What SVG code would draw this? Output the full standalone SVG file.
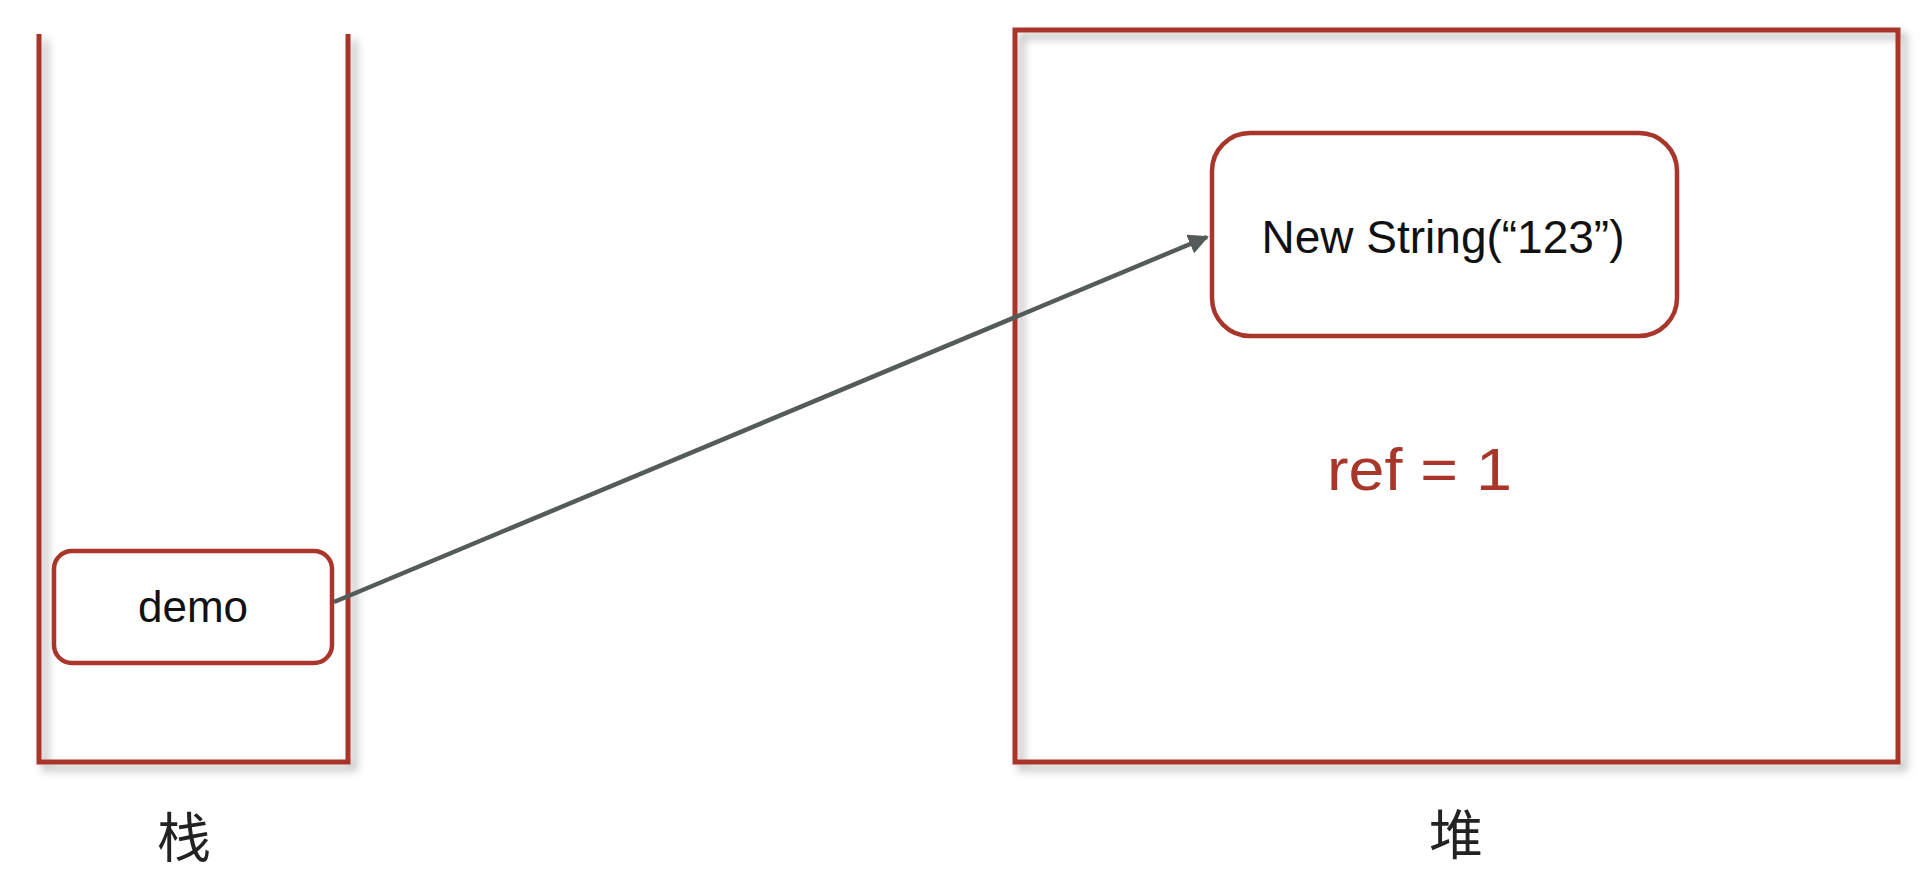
<svg xmlns="http://www.w3.org/2000/svg" width="1923" height="879" viewBox="0 0 1923 879">
<style>
.frame{fill:none;stroke:#a8362a;stroke-width:5}
.node{fill:#fff;stroke:#a8362a;stroke-width:4.5}
.lbl{font-family:"Liberation Sans",Arial,sans-serif;fill:#111;text-anchor:middle}
.cjk{font-family:"Noto Sans CJK SC","Liberation Sans",sans-serif;fill:#222;text-anchor:middle}
.conn{stroke:#555b5b;stroke-width:4.5;fill:none}
</style>
<defs>
<filter id="sh" x="-10%" y="-10%" width="130%" height="130%">
<feDropShadow dx="6" dy="6" stdDeviation="4" flood-color="#000" flood-opacity="0.3"/>
</filter>
<marker id="ah" viewBox="0 0 10 10" refX="9" refY="5" markerWidth="4.5" markerHeight="4.5" orient="auto" markerUnits="strokeWidth">
<path d="M0,0 L10,5 L0,10 z" fill="#555b5b"/>
</marker>
</defs>
<rect width="1923" height="879" fill="#fff"/>
<g id="stack">
<path class="frame" filter="url(#sh)" d="M39,34 V762 H348 V34"/>
<text class="cjk" x="184" y="858" font-size="54">栈</text>
</g>
<g id="heap">
<rect class="frame" filter="url(#sh)" x="1015" y="30" width="883" height="732"/>
<text class="cjk" x="1456" y="855" font-size="54">堆</text>
<text x="1327" y="490" font-family="'Liberation Sans',Arial,sans-serif" font-size="60" fill="#a8362a" textLength="185" lengthAdjust="spacingAndGlyphs">ref = 1</text>
</g>
<g id="demo">
<rect class="node" x="54" y="551" width="278" height="112" rx="18"/>
<text class="lbl" x="193" y="622" font-size="44">demo</text>
</g>
<g id="newstring">
<rect class="node" x="1212" y="133" width="465" height="203" rx="38"/>
<text class="lbl" x="1443" y="253" font-size="46">New String(“123”)</text>
</g>
<g id="connectors">
<line class="conn" x1="334" y1="602" x2="1207" y2="237" marker-end="url(#ah)"/>
</g>
</svg>
